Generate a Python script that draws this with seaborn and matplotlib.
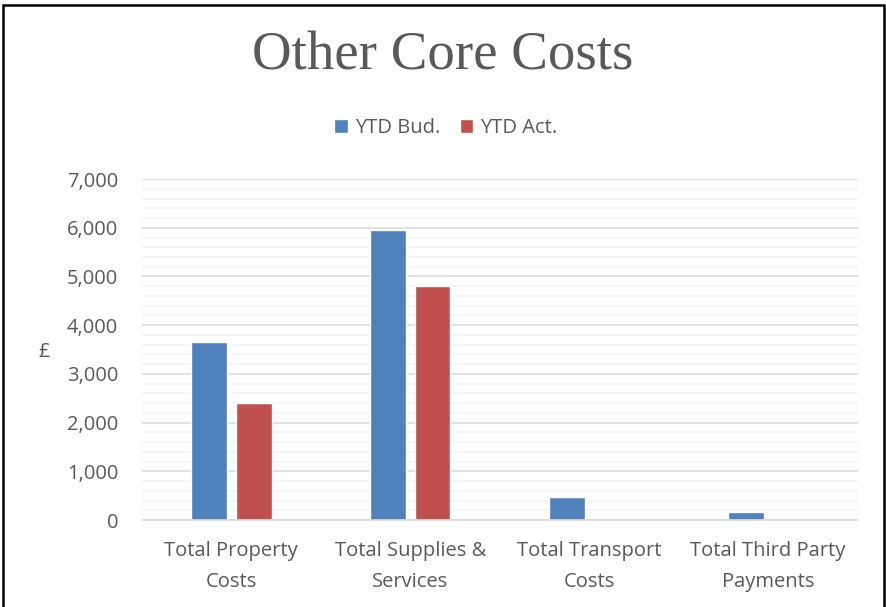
import numpy as np
import pandas as pd
import matplotlib
matplotlib.use('Agg')
import matplotlib.pyplot as plt
import seaborn as sns
from matplotlib.patches import Rectangle
from matplotlib.ticker import MultipleLocator, FuncFormatter

# ---------- Data ----------
categories = ['Total Property\nCosts', 'Total Supplies &\nServices',
              'Total Transport\nCosts', 'Total Third Party\nPayments']
ytd_bud = [3650, 5950, 475, 165]
ytd_act = [2400, 4800, 0, 0]
series = ['YTD Bud.', 'YTD Act.']
colors = ['#4F81BD', '#C0504D']

df = pd.DataFrame({
    'Category': categories * 2,
    'Value': ytd_bud + ytd_act,
    'Series': [series[0]] * 4 + [series[1]] * 4,
})

sns.set_theme(style='white')
plt.rcParams['font.family'] = ['Open Sans', 'DejaVu Sans']

fig = plt.figure(figsize=(8.86, 6.07), dpi=100)
ax = fig.add_axes([0.160, 0.1433, 0.808, 0.5617])

sns.barplot(data=df, x='Category', y='Value', hue='Series',
            palette=colors, width=0.5, gap=0.2, ax=ax,
            saturation=1, legend=True)

# ---------- Axes styling ----------
ax.set_ylim(0, 7000)
ax.set_xlim(-0.5, 3.5)
ax.yaxis.set_major_locator(MultipleLocator(1000))
ax.yaxis.set_minor_locator(MultipleLocator(200))
ax.yaxis.set_major_formatter(FuncFormatter(lambda v, p: f'{int(v):,}'))
ax.grid(axis='y', which='major', color='#D9D9D9', linewidth=1.1, zorder=0)
ax.grid(axis='y', which='minor', color='#F2F2F2', linewidth=1.1, zorder=0)
ax.set_axisbelow(True)
for s in ['top', 'right', 'left']:
    ax.spines[s].set_visible(False)
ax.spines['bottom'].set_color('#D9D9D9')
ax.spines['bottom'].set_linewidth(1.2)

ax.tick_params(axis='y', which='both', length=0, labelsize=14.5,
               labelcolor='#595959', pad=17)
ax.set_xticks(np.arange(-0.5, 4, 1.0), minor=True)
ax.tick_params(axis='x', which='minor', length=7, color='#D9D9D9', width=1.2)
ax.tick_params(axis='x', which='major', length=0, labelsize=14.5,
               labelcolor='#595959', pad=15)
for lbl in ax.get_xticklabels():
    lbl.set_linespacing(1.75)
ax.set_xlabel('')
ax.set_ylabel('')
fig.text(44 / 886, 1 - 352 / 607, '£', ha='center', va='center',
         fontsize=14.5, color='#595959')

# ---------- Title & legend ----------
fig.text(0.50, 1 - 56 / 607, 'Other Core Costs', ha='center', va='center',
         fontsize=39.5, color='#595959', family='Liberation Serif')
ax.legend(title=None, loc='center', bbox_to_anchor=(0.425, 1.15),
          ncol=2, frameon=False, fontsize=14.5, handlelength=0.65,
          handleheight=0.65, columnspacing=1.0, handletextpad=0.35,
          labelcolor='#595959')

# ---------- Outer border ----------
fig.patches.append(Rectangle((0.003, -0.02), 0.995, 1 - 4.5 / 607 + 0.02,
                             transform=fig.transFigure, fill=False,
                             edgecolor='black', linewidth=1.8))

fig.savefig('out.png', dpi=100)
